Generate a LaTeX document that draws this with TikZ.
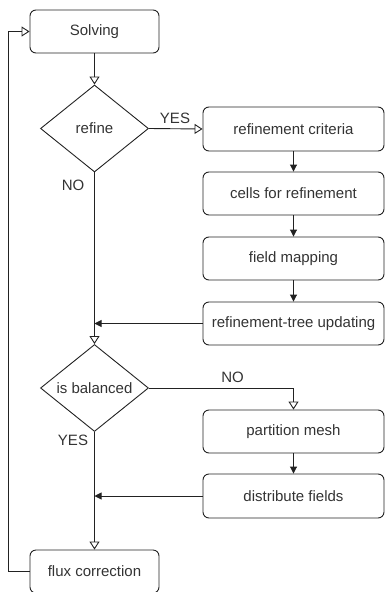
\documentclass[tikz,border=0pt]{standalone}
\usepackage{fontspec}
\setmainfont{Liberation Sans}
\usetikzlibrary{arrows.meta,shapes.geometric}
\definecolor{txt}{HTML}{333333}
\definecolor{ln}{HTML}{222222}
\begin{document}
\begin{tikzpicture}[x=1pt,y=-1pt,
  font=\fontsize{15}{17}\selectfont,
  box/.style={draw=ln,line width=0.9pt,rounded corners=6pt,text=txt,inner sep=0pt},
  dia/.style={draw=ln,line width=0.9pt,diamond,text=txt,inner sep=0pt,minimum width=108pt,minimum height=87pt},
  lbl/.style={text=txt,inner sep=0pt},
  flow/.style={draw=ln,line width=0.9pt},
  oa/.style={flow,-{Triangle[open,length=8pt,width=10pt,line width=0.9pt]}},
  fa/.style={flow,-{Triangle[length=7pt,width=7pt]}}]
\useasboundingbox (0,0) rectangle (385,592);
\node[box,minimum width=129pt,minimum height=43pt] (solve) at (94.5,31.5) {Solving};
\node[dia] (refine) at (94.5,128.5) {refine};
\node[box,minimum width=181pt,minimum height=44pt] (crit) at (293.5,129) {refinement criteria};
\node[box,minimum width=181pt,minimum height=43pt] (cells) at (293.5,193.5) {cells for refinement};
\node[box,minimum width=181pt,minimum height=43pt] (map) at (293.5,258.5) {field mapping};
\node[box,minimum width=181pt,minimum height=43pt] (tree) at (293.5,323.5) {refinement-tree updating};
\node[dia] (isb) at (94.5,388) {is balanced};
\node[box,minimum width=181pt,minimum height=43pt] (part) at (293.5,431.5) {partition mesh};
\node[box,minimum width=181pt,minimum height=44pt] (dist) at (293.5,496) {distribute fields};
\node[box,minimum width=129pt,minimum height=43pt] (flux) at (94.5,571.5) {flux correction};
\coordinate (m1) at (94.5,323.5);
\coordinate (m2) at (94.5,496);
\coordinate (c1) at (8,571.5);
\coordinate (c2) at (8,31.5);
\draw[oa] (solve.south) -- (refine.north);
\draw[oa] (refine.east) -- (crit.west);
\node[lbl] (yes1) at (175,118) {YES};
\draw[flow] (refine.south) -- (m1);
\node[lbl] (no1) at (73,185) {NO};
\draw[oa] (m1) -- (isb.north);
\draw[fa] (crit) -- (cells);
\draw[fa] (cells) -- (map);
\draw[fa] (map) -- (tree);
\draw[fa] (tree.west) -- (m1);
\draw[oa] (isb.east) -| (part.north);
\node[lbl] (no2) at (232.5,377) {NO};
\draw[fa] (part) -- (dist);
\draw[flow] (isb.south) -- (m2);
\node[lbl] (yes2) at (73,440) {YES};
\draw[oa] (m2) -- (flux.north);
\draw[fa] (dist.west) -- (m2);
\draw[oa] (flux.west) -- (c1) -- (c2) -- (solve.west);
\end{tikzpicture}
\end{document}
